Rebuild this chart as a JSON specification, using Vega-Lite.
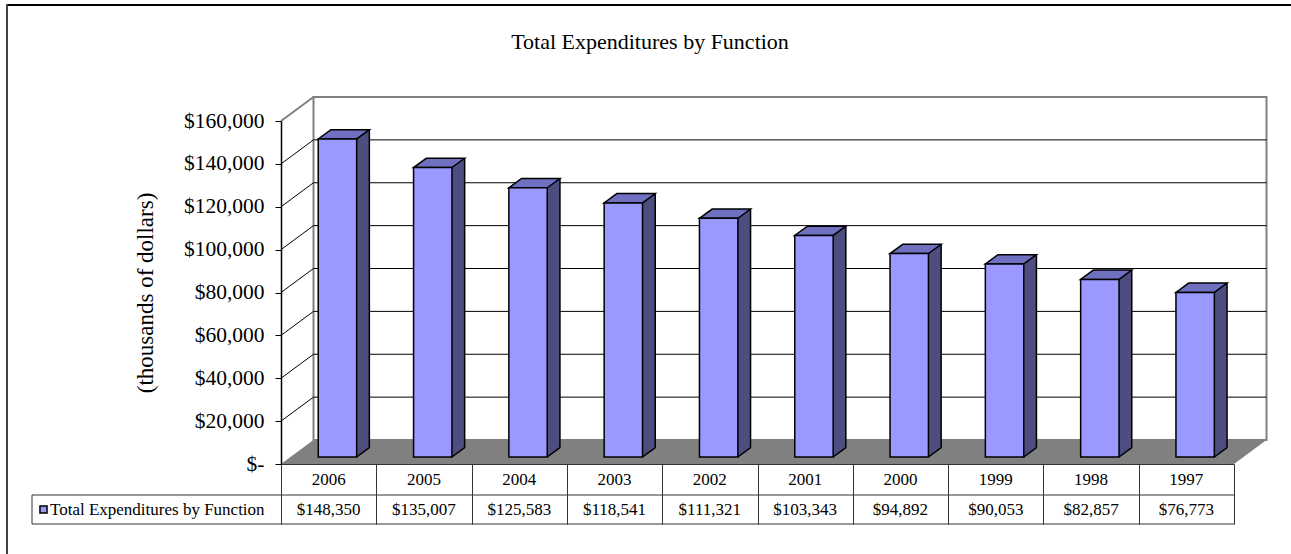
{
  "$schema": "https://vega.github.io/schema/vega-lite/v6.json",
  "width": 953,
  "height": 343,
  "autosize": {"type": "none"},
  "padding": {"left": 281, "top": 121, "right": 57, "bottom": 90},
  "background": "white",
  "title": {
    "text": "Total Expenditures by Function",
    "font": "Liberation Serif",
    "fontSize": 22,
    "fontWeight": "normal",
    "color": "black",
    "anchor": "middle",
    "dx": -107.5,
    "offset": -51
  },
  "config": {
    "view": {"stroke": null},
    "axis": {"grid": false}
  },
  "datasets": {
    "exp": [
      {"year": "2006", "value": 148350},
      {"year": "2005", "value": 135007},
      {"year": "2004", "value": 125583},
      {"year": "2003", "value": 118541},
      {"year": "2002", "value": 111321},
      {"year": "2001", "value": 103343},
      {"year": "2000", "value": 94892},
      {"year": "1999", "value": 90053},
      {"year": "1998", "value": 82857},
      {"year": "1997", "value": 76773}
    ],
    "grid": [
      {"tick": 20000}, {"tick": 40000}, {"tick": 60000}, {"tick": 80000},
      {"tick": 100000}, {"tick": 120000}, {"tick": 140000}
    ],
    "one": [{"k": 1}]
  },
  "resolve": {"scale": {"x": "independent"}},
  "layer": [
    {
      "layer": [
        {
          "data": {"name": "one"},
          "mark": {"type": "rule", "stroke": "black", "strokeWidth": 2, "xOffset": -274, "x2Offset": 57, "yOffset": -116},
          "encoding": {
            "x": {"datum": 0, "type": "quantitative", "scale": {"domain": [0, 10]}, "axis": null},
            "x2": {"datum": 10},
            "y": {"datum": 160000, "type": "quantitative"}
          }
        },
        {
          "data": {"name": "one"},
          "mark": {"type": "rule", "stroke": "#404040", "strokeWidth": 2, "xOffset": -274, "x2Offset": -274, "yOffset": -117, "y2Offset": 90},
          "encoding": {
            "x": {"datum": 0, "type": "quantitative", "axis": null},
            "x2": {"datum": 0},
            "y": {"datum": 160000, "type": "quantitative"},
            "y2": {"datum": 0}
          }
        },
        {
          "data": {"name": "one"},
          "mark": {"type": "rect", "fill": "white", "stroke": "#808080", "strokeWidth": 2, "xOffset": 32.5, "x2Offset": 32.5, "yOffset": -24, "y2Offset": -24},
          "encoding": {
            "x": {"datum": 0, "type": "quantitative", "axis": null},
            "x2": {"datum": 10},
            "y": {"datum": 0, "type": "quantitative"},
            "y2": {"datum": 160000}
          }
        },
        {
          "data": {"name": "grid"},
          "mark": {"type": "rule", "stroke": "black", "strokeWidth": 1, "xOffset": 32.5, "x2Offset": 32.5, "yOffset": -24},
          "encoding": {
            "x": {"datum": 0, "type": "quantitative", "axis": null},
            "x2": {"datum": 10},
            "y": {"field": "tick", "type": "quantitative"}
          }
        },
        {
          "data": {"name": "grid"},
          "mark": {"type": "rule", "stroke": "black", "strokeWidth": 1, "x2Offset": 32.5, "y2Offset": -24},
          "encoding": {
            "x": {"datum": 0, "type": "quantitative", "axis": null},
            "x2": {"datum": 0},
            "y": {"field": "tick", "type": "quantitative"},
            "y2": {"field": "tick"}
          }
        },
        {
          "data": {"name": "one"},
          "mark": {"type": "rule", "stroke": "#808080", "strokeWidth": 2, "x2Offset": 32.5, "y2Offset": -24},
          "encoding": {
            "x": {"datum": 0, "type": "quantitative", "axis": null},
            "x2": {"datum": 0},
            "y": {"datum": 160000, "type": "quantitative"},
            "y2": {"datum": 160000}
          }
        },
        {
          "data": {"name": "one"},
          "mark": {"type": "rect", "fill": "#808080", "strokeWidth": 0, "xOffset": 32.5, "y2Offset": -24},
          "encoding": {
            "x": {"datum": 0, "type": "quantitative", "axis": null},
            "x2": {"datum": 10},
            "y": {"datum": 0, "type": "quantitative"},
            "y2": {"datum": 0}
          }
        },
        {
          "data": {"name": "one"},
          "mark": {"type": "point", "shape": "M0,0 L32.5,-24 L33.5,-24 L33.5,0 Z", "size": 4, "filled": true, "fill": "#808080", "strokeWidth": 0, "opacity": 1},
          "encoding": {
            "x": {"datum": 0, "type": "quantitative", "axis": null},
            "y": {"datum": 0, "type": "quantitative"}
          }
        },
        {
          "data": {"name": "one"},
          "mark": {"type": "point", "shape": "M-1,0 L0,0 L32.5,-24 L-1,-24 Z", "size": 4, "filled": true, "fill": "#808080", "strokeWidth": 0, "opacity": 1},
          "encoding": {
            "x": {"datum": 10, "type": "quantitative", "axis": null},
            "y": {"datum": 0, "type": "quantitative"}
          }
        },
        {
          "data": {"name": "one"},
          "mark": {"type": "rule", "stroke": "#333333", "strokeWidth": 1, "xOffset": -249, "yOffset": 31},
          "encoding": {
            "x": {"datum": 0, "type": "quantitative", "axis": null},
            "x2": {"datum": 10},
            "y": {"datum": 0, "type": "quantitative"}
          }
        },
        {
          "data": {"name": "one"},
          "mark": {"type": "rule", "stroke": "#333333", "strokeWidth": 1, "xOffset": -249, "yOffset": 60},
          "encoding": {
            "x": {"datum": 0, "type": "quantitative", "axis": null},
            "x2": {"datum": 10},
            "y": {"datum": 0, "type": "quantitative"}
          }
        },
        {
          "data": {"name": "one"},
          "mark": {"type": "rule", "stroke": "#333333", "strokeWidth": 1, "xOffset": -249, "x2Offset": -249, "yOffset": 31, "y2Offset": 60},
          "encoding": {
            "x": {"datum": 0, "type": "quantitative", "axis": null},
            "x2": {"datum": 0},
            "y": {"datum": 0, "type": "quantitative"},
            "y2": {"datum": 0}
          }
        }
      ]
    },
    {
      "data": {"name": "exp"},
      "encoding": {
        "x": {
          "field": "year",
          "type": "ordinal",
          "sort": null,
          "scale": {"paddingInner": 0, "paddingOuter": 0},
          "axis": {
            "orient": "bottom",
            "title": null,
            "labels": false,
            "domain": true,
            "domainColor": "#333333",
            "domainWidth": 1,
            "ticks": true,
            "tickBand": "extent",
            "tickSize": 60,
            "tickColor": "#333333",
            "tickWidth": 1,
            "grid": false,
            "zindex": 1
          }
        },
        "y": {
          "field": "value",
          "type": "quantitative",
          "scale": {"domain": [0, 160000], "nice": false},
          "axis": {
            "orient": "left",
            "title": "(thousands of dollars)",
            "values": [0, 20000, 40000, 60000, 80000, 100000, 120000, 140000, 160000],
            "labelExpr": "datum.value == 0 ? '$-' : '$' + format(datum.value, ',')",
            "labelFont": "Liberation Serif",
            "labelFontSize": 21.5,
            "labelColor": "black",
            "labelPadding": 11,
            "tickSize": 6,
            "tickColor": "black",
            "tickWidth": 1,
            "domainColor": "black",
            "domainWidth": 1.5,
            "grid": false,
            "titleFont": "Liberation Serif",
            "titleFontSize": 23,
            "titleFontWeight": "normal",
            "titleColor": "black",
            "titlePadding": 26,
            "zindex": 1
          }
        }
      },
      "layer": [
        {
          "mark": {"type": "bar", "fill": "#4d4d80", "strokeWidth": 0, "width": 12.7, "xOffset": 34.35, "yOffset": -16.3, "y2Offset": -16.3},
          "encoding": {"y2": {"datum": 0}}
        },
        {
          "mark": {"type": "point", "shape": "M19.2,0 L19.2,-9.8 L31.9,-9.8 L31.9,-9.3 Z", "size": 4, "filled": true, "fill": "#4d4d80", "strokeWidth": 0, "opacity": 1, "xOffset": 8.8, "yOffset": -7},
          "encoding": {"y": {"datum": 0, "type": "quantitative"}}
        },
        {
          "mark": {"type": "rule", "stroke": "black", "strokeWidth": 1.5, "xOffset": 40.7, "yOffset": -16.3, "y2Offset": -16.3},
          "encoding": {"y2": {"datum": 0}}
        },
        {
          "mark": {"type": "point", "shape": "M19.2,0 L31.9,-9.3", "size": 4, "filled": false, "fill": "none", "stroke": "black", "strokeWidth": 1.5, "opacity": 1, "xOffset": 8.8, "yOffset": -7},
          "encoding": {"y": {"datum": 0, "type": "quantitative"}}
        },
        {
          "mark": {"type": "point", "shape": "M-19.2,0 L19.2,0 L31.9,-9.3 L-6.5,-9.3 Z", "size": 4, "filled": true, "fill": "#7070c0", "stroke": "black", "strokeWidth": 1.5, "opacity": 1, "xOffset": 8.8, "yOffset": -7}
        },
        {
          "mark": {"type": "bar", "stroke": "black", "strokeWidth": 1.5, "width": 38.4, "xOffset": 8.8, "yOffset": -7, "y2Offset": -7},
          "encoding": {
            "y2": {"datum": 0},
            "color": {
              "datum": "Total Expenditures by Function",
              "type": "nominal",
              "scale": {"range": ["#9999ff"]},
              "legend": {
                "orient": "none",
                "legendX": -249,
                "legendY": 374,
                "title": null,
                "padding": 6,
                "strokeColor": null,
                "fillColor": null,
                "symbolType": "square",
                "symbolSize": 50,
                "symbolOffset": -3,
                "symbolStrokeColor": "black",
                "symbolStrokeWidth": 1.5,
                "labelFont": "Liberation Serif",
                "labelFontSize": 17,
                "labelColor": "black",
                "labelOffset": -2,
                "labelLimit": 400
              }
            }
          }
        },
        {
          "mark": {"type": "text", "font": "Liberation Serif", "fontSize": 17, "color": "black", "baseline": "middle", "align": "center", "yOffset": 15.5},
          "encoding": {
            "y": {"datum": 0, "type": "quantitative"},
            "text": {"field": "year", "type": "nominal"}
          }
        },
        {
          "mark": {"type": "text", "font": "Liberation Serif", "fontSize": 17, "color": "black", "baseline": "middle", "align": "center", "yOffset": 45.5},
          "encoding": {
            "y": {"datum": 0, "type": "quantitative"},
            "text": {"field": "value", "type": "quantitative", "format": "$,.0f"}
          }
        }
      ]
    }
  ]
}
